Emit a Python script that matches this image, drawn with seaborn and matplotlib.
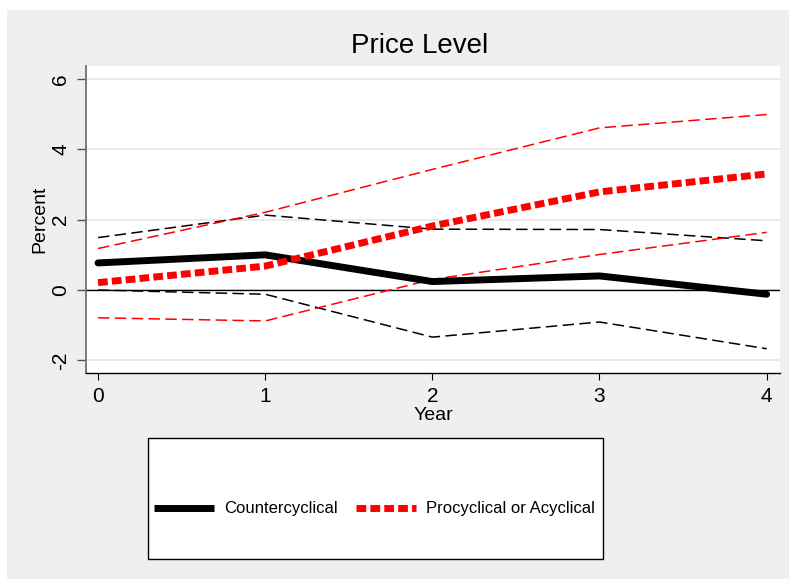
import matplotlib
matplotlib.use("Agg")
import matplotlib.pyplot as plt
import seaborn as sns
from matplotlib.lines import Line2D
from matplotlib.patches import Rectangle

# Impulse responses of the price level, by policy stance (percent)
years = [0, 1, 2, 3, 4]
counter = [0.77, 1.00, 0.24, 0.40, -0.12]
counter_hi = [1.49, 2.13, 1.73, 1.72, 1.40]
counter_lo = [0.00, -0.12, -1.34, -0.91, -1.67]
pro = [0.21, 0.68, 1.82, 2.79, 3.30]
pro_hi = [1.18, 2.21, 3.43, 4.61, 4.99]
pro_lo = [-0.79, -0.88, 0.30, 1.01, 1.64]
yticks = [-2, 0, 2, 4, 6]
labels = ["Countercyclical", "Procyclical or Acyclical"]

sns.set_theme(style="white")
plt.rcParams['font.family'] = ['Liberation Sans', 'DejaVu Sans']
plt.rcParams.update({'text.color': 'black', 'axes.labelcolor': 'black',
                     'xtick.color': 'black', 'ytick.color': 'black'})

W, H = 789, 579
fig = plt.figure(figsize=(W / 100, H / 100), dpi=100)
fig.patch.set_facecolor('white')
fig.add_artist(Rectangle((7 / W, 0), 1 - 7 / W + 0.01, 1 - 10 / H, transform=fig.transFigure,
                         facecolor='#efefef', edgecolor='none', zorder=-10))

ax = fig.add_axes([86 / W, 1 - 373 / H, (780 - 86) / W, (373 - 66) / H])
ax.set_facecolor('white')

thin_dash = (0, (7.5, 3.5))
thick_dash = (0, (1.4, 0.6))

# confidence bands
sns.lineplot(x=years, y=counter_hi, ax=ax, color='black', lw=1.1, linestyle=thin_dash, zorder=3)
sns.lineplot(x=years, y=counter_lo, ax=ax, color='black', lw=1.1, linestyle=thin_dash, zorder=3)
sns.lineplot(x=years, y=pro_hi, ax=ax, color='red', lw=1.1, linestyle=thin_dash, zorder=3)
sns.lineplot(x=years, y=pro_lo, ax=ax, color='red', lw=1.1, linestyle=thin_dash, zorder=3)
# point estimates
sns.lineplot(x=years, y=counter, ax=ax, color='black', lw=5, solid_capstyle='round',
             solid_joinstyle='round', zorder=4)
sns.lineplot(x=years, y=pro, ax=ax, color='red', lw=5, linestyle=thick_dash,
             dash_capstyle='butt', zorder=5)

ax.axhline(0, color='black', lw=1.0, zorder=2)
for t in yticks:
    ax.axhline(t, color='#e6e6e6', lw=1.2, zorder=1)

ax.set_xlim(-0.072, 4.08)
ax.set_ylim(-2.36, 6.37)
ax.set_xticks(years)
ax.set_yticks(yticks)
ax.set_xticklabels([str(y) for y in years])
ax.set_yticklabels([str(t) for t in yticks])

for s in ['top', 'right']:
    ax.spines[s].set_visible(False)
ax.spines['bottom'].set_color('black')
ax.spines['bottom'].set_linewidth(1.0)
ax.spines['left'].set_color('#707070')
ax.spines['left'].set_linewidth(1.3)

ax.tick_params(axis='x', direction='out', length=5, width=0.8, color='black',
               labelsize=15, pad=5, bottom=True)
ax.tick_params(axis='y', direction='out', length=6.5, width=1.0, color='#505050',
               labelsize=15, pad=5, left=True, labelrotation=90)
for lab in ax.get_yticklabels():
    lab.set_va('center')

fig.text(420 / W, 1 - 46 / H, "Price Level", ha='center', va='center', fontsize=20)
fig.text(40 / W, 1 - 219 / H, "Percent", ha='center', va='center', rotation=90, fontsize=14)
fig.text(433 / W, 1 - 416 / H, "Year", ha='center', va='center', fontsize=14)

# legend box
fig.add_artist(Rectangle((148 / W, 1 - 559 / H), (603 - 148) / W, (559 - 438) / H,
                         transform=fig.transFigure, facecolor='white',
                         edgecolor='black', lw=1.0, zorder=5))
handles = [Line2D([], [], color='black', lw=5, solid_capstyle='butt'),
           Line2D([], [], color='red', lw=5, linestyle=thick_dash, dash_capstyle='butt')]
leg = fig.legend(handles, labels, loc='center', bbox_to_anchor=(374.5 / W, 1 - 509 / H),
                 ncol=2, frameon=False, handlelength=3.6, fontsize=12,
                 handletextpad=0.6, columnspacing=1.1, borderpad=0, borderaxespad=0)
leg.set_zorder(6)

fig.savefig("out.png", dpi=100)
